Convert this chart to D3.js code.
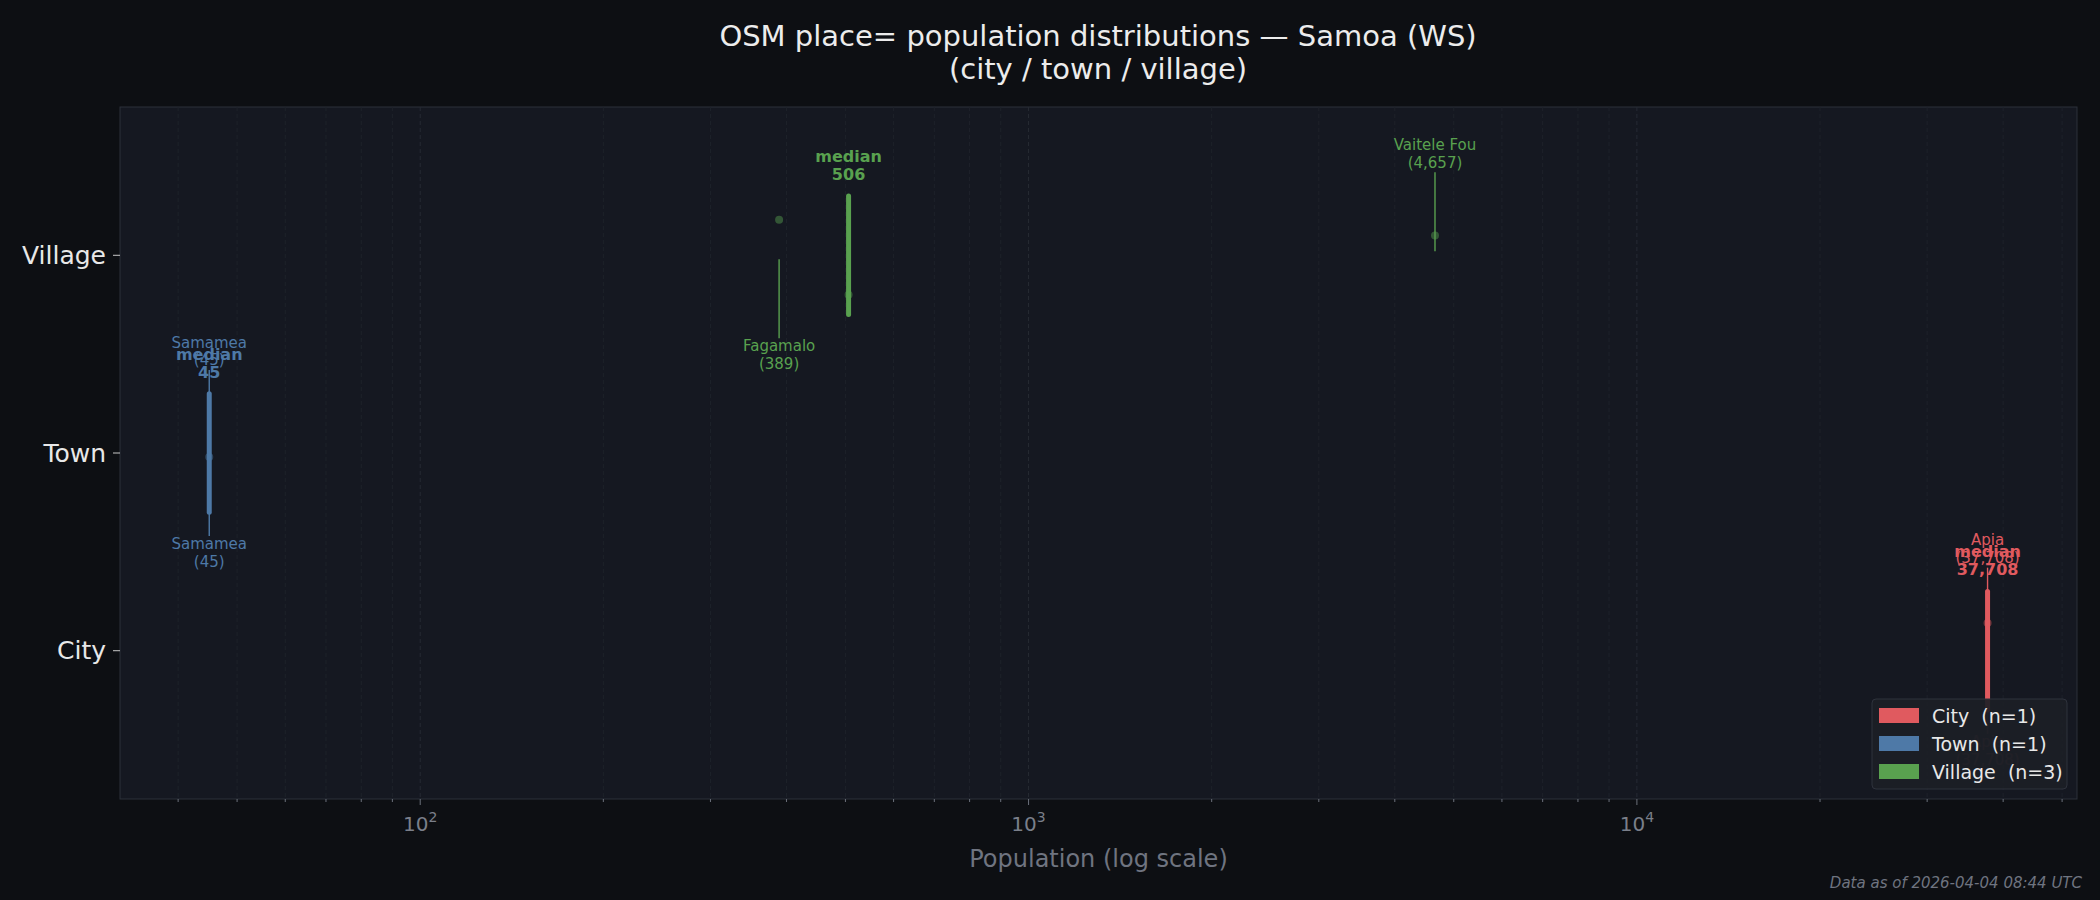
<!DOCTYPE html>
<html><head><meta charset="utf-8">
<script src="https://cdn.jsdelivr.net/npm/d3@7"></script>
<style>
body{margin:0;background:#0d0f13;}
text{font-family:"DejaVu Sans",sans-serif;white-space:pre;}
</style></head>
<body><svg id="chart" width="2100" height="900"></svg>
<script>
// data
var categories = ["City", "Town", "Village"];
var counts = [1, 1, 3];
var colors = ["#e05a5f", "#4e79a7", "#59a14f"];
var medians = [37708, 45, 506];
var placeNames = ["Apia", "Samamea", "Fagamalo", "Vaitele Fou", "Village (median)"];
var placeCats = [0, 1, 2, 2, 2];
var placePops = [37708, 45, 389, 4657, 506];
var placeJitter = [0.14, -0.02, 0.18, 0.1, -0.2];
var labelSide = ["both", "both", "below", "above", "none"];
var xTicks = [100, 1000, 10000];

var svg = d3.select("#chart");
var W = 2100, H = 900;
var m = {left: 120, right: 23, top: 107, bottom: 101};

var x = d3.scaleLog().domain([32.1, 52900]).range([m.left, W - m.right]);
var y = d3.scaleLinear().domain([-0.75, 2.75]).range([H - m.bottom, m.top]);

svg.append("rect").attr("width", W).attr("height", H).attr("fill", "#0d0f13");
svg.append("rect")
  .attr("x", m.left).attr("y", m.top)
  .attr("width", W - m.left - m.right).attr("height", H - m.top - m.bottom)
  .attr("fill", "#151821").attr("stroke", "#2c303a");

// grid lines, major + minor
var gridTicks = x.ticks(40);
svg.append("g").selectAll("line").data(gridTicks).join("line")
  .attr("x1", function(d) { return x(d); }).attr("x2", function(d) { return x(d); })
  .attr("y1", m.top).attr("y2", H - m.bottom)
  .attr("stroke", function(d) { return xTicks.indexOf(d) >= 0 ? "#262a33" : "#1e222a"; })
  .attr("stroke-dasharray", "4,3").attr("stroke-width", 1);

// x axis
var xa = svg.append("g").attr("transform", "translate(0," + (H - m.bottom) + ")");
xa.selectAll("line").data(gridTicks).join("line")
  .attr("x1", function(d) { return x(d); }).attr("x2", function(d) { return x(d); })
  .attr("y1", 0).attr("y2", function(d) { return xTicks.indexOf(d) >= 0 ? 6 : 3; })
  .attr("stroke", "#6b707b");
var xl = xa.selectAll("text").data(xTicks).join("text")
  .attr("x", function(d) { return x(d); }).attr("y", 32)
  .attr("text-anchor", "middle").attr("fill", "#7a7f8a").attr("font-size", 20);
xl.append("tspan").text("10");
xl.append("tspan").attr("dy", -9).attr("font-size", 14)
  .text(function(d) { return Math.round(Math.log10(d)); });

svg.append("text").attr("x", (m.left + W - m.right) / 2).attr("y", 867)
  .attr("text-anchor", "middle").attr("fill", "#6f7480").attr("font-size", 24)
  .text("Population (log scale)");

// y axis
var ya = svg.append("g");
ya.selectAll("line").data(categories).join("line")
  .attr("x1", m.left - 7).attr("x2", m.left)
  .attr("y1", function(d, i) { return y(i); }).attr("y2", function(d, i) { return y(i); })
  .attr("stroke", "#c8c8c8");
ya.selectAll("text").data(categories).join("text")
  .attr("x", m.left - 14).attr("y", function(d, i) { return y(i); })
  .attr("dy", "0.35em").attr("text-anchor", "end")
  .attr("fill", "#e8e8e8").attr("font-size", 25).text(function(d) { return d; });

// title
svg.append("text").attr("x", 1098).attr("y", 46).attr("text-anchor", "middle")
  .attr("fill", "#ececec").attr("font-size", 29).text("OSM place= population distributions \u2014 Samoa (WS)");
svg.append("text").attr("x", 1098).attr("y", 79).attr("text-anchor", "middle")
  .attr("fill", "#ececec").attr("font-size", 29).text("(city / town / village)");

var fmt = d3.format(",");

// median bars
var mg = svg.append("g");
mg.selectAll("line").data(medians).join("line")
  .attr("x1", function(d) { return x(d); }).attr("x2", function(d) { return x(d); })
  .attr("y1", function(d, i) { return y(i + 0.3); }).attr("y2", function(d, i) { return y(i - 0.3); })
  .attr("stroke", function(d, i) { return colors[i]; })
  .attr("stroke-width", 5).attr("stroke-linecap", "round");

// points
svg.append("g").selectAll("circle").data(placePops).join("circle")
  .attr("cx", function(d) { return x(d); })
  .attr("cy", function(d, i) { return y(placeCats[i] + placeJitter[i]); })
  .attr("r", 4).attr("fill", function(d, i) { return colors[placeCats[i]]; })
  .attr("opacity", 0.45);

// name labels with leader lines
var lg = svg.append("g");
placePops.forEach(function(p, i) {
  var c = placeCats[i], col = colors[c];
  var sides = labelSide[i] === "both" ? ["above", "below"] : (labelSide[i] === "none" ? [] : [labelSide[i]]);
  sides.forEach(function(s) {
    var sg = s === "above" ? 1 : -1;
    var op = (c === 0 && s === "below") ? 0.35 : 1;
    lg.append("line")
      .attr("x1", x(p)).attr("x2", x(p))
      .attr("y1", y(c + sg * 0.42)).attr("y2", y(c + sg * 0.02))
      .attr("stroke", col).attr("stroke-width", 1.4).attr("opacity", op);
    var t1 = s === "above" ? 0.56 : -0.46, t2 = s === "above" ? 0.47 : -0.55;
    lg.append("text").attr("x", x(p)).attr("y", y(c + t1)).attr("dy", "0.35em")
      .attr("text-anchor", "middle").attr("fill", col).attr("font-size", 15).attr("opacity", op)
      .text(placeNames[i]);
    lg.append("text").attr("x", x(p)).attr("y", y(c + t2)).attr("dy", "0.35em")
      .attr("text-anchor", "middle").attr("fill", col).attr("font-size", 15).attr("opacity", op)
      .text("(" + fmt(p) + ")");
  });
});

// median labels
medians.forEach(function(d, i) {
  svg.append("text").attr("x", x(d)).attr("y", y(i + 0.5)).attr("dy", "0.35em")
    .attr("text-anchor", "middle").attr("fill", colors[i]).attr("font-size", 16)
    .attr("font-weight", "bold").text("median");
  svg.append("text").attr("x", x(d)).attr("y", y(i + 0.41)).attr("dy", "0.35em")
    .attr("text-anchor", "middle").attr("fill", colors[i]).attr("font-size", 16)
    .attr("font-weight", "bold").text(fmt(d));
});

// legend
var leg = svg.append("g").attr("transform", "translate(1872,699)");
leg.append("rect").attr("width", 195).attr("height", 90).attr("rx", 4)
  .attr("fill", "#1c1f26").attr("fill-opacity", 0.92).attr("stroke", "#2e323c");
categories.forEach(function(c, i) {
  leg.append("rect").attr("x", 7).attr("y", 9 + i * 28).attr("width", 40).attr("height", 15)
    .attr("fill", colors[i]);
  leg.append("text").attr("x", 60).attr("y", 17 + i * 28).attr("dy", "0.35em")
    .attr("fill", "#e8e8e8").attr("font-size", 19)
    .text(c + "  (n=" + counts[i] + ")");
});

svg.append("text").attr("x", 2082).attr("y", 888).attr("text-anchor", "end")
  .attr("fill", "#6f7480").attr("font-size", 15).attr("font-style", "italic")
  .text("Data as of 2026-04-04 08:44 UTC");
</script></body></html>
